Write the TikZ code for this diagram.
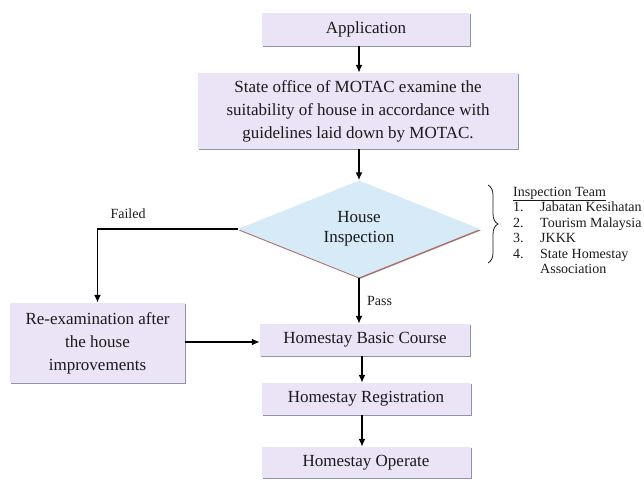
\documentclass[tikz,border=0pt]{standalone}
\usepackage{fontspec}
\setmainfont{Liberation Serif}
\usetikzlibrary{positioning, shapes.geometric, shadows, arrows.meta, decorations.pathreplacing}
\definecolor{boxfill}{HTML}{EBE3F6}
\definecolor{boxedge}{HTML}{8C94A8}
\definecolor{diafill}{HTML}{D6EAF8}
\definecolor{diaedge}{HTML}{A8706A}
\definecolor{xtext}{HTML}{1A1A1A}
\tikzset{
	arrow/.style={line width=1.6pt, -{Latex[length=8pt, width=7pt]}},
	flowbox/.style={fill=boxfill, text=xtext, inner sep=0pt, align=center,
		font=\fontsize{17}{23}\selectfont,
		drop shadow={shadow xshift=1.2pt, shadow yshift=-1.4pt, fill=boxedge, opacity=1}},
	decision/.style={diamond, fill=diafill, text=xtext, inner sep=0pt, align=center,
		shape aspect=2.5, font=\fontsize{17}{20}\selectfont,
		drop shadow={shadow xshift=0.8pt, shadow yshift=-1.4pt, fill=diaedge, opacity=1}},
	label/.style={text=xtext, font=\fontsize{14}{16}\selectfont},
}

\begin{document}
\begin{tikzpicture}[x=1pt, y=-1pt]
	\useasboundingbox (0,0) rectangle (644,479);

	% Main column
	\node[flowbox, minimum width=208pt, minimum height=33pt] (app) at (366,29.5) {Application};
	\node[flowbox, minimum width=320pt, minimum height=76pt] (state) at (358,111)
		{State office of MOTAC examine the\\suitability of house in accordance with\\guidelines laid down by MOTAC.};
	\node[decision, minimum width=242pt, minimum height=97pt] (insp) at (359,229) {House\\Inspection};
	\node[flowbox, minimum width=210pt, minimum height=32pt] (basic) at (365,340) {Homestay Basic Course};
	\node[flowbox, minimum width=209pt, minimum height=32pt] (reg) at (366,399) {Homestay Registration};
	\node[flowbox, minimum width=209pt, minimum height=31pt] (oper) at (366,462.5) {Homestay Operate};

	% Failed branch
	\node[flowbox, minimum width=175pt, minimum height=80pt] (reexam) at (97.5,343)
		{Re-examination after\\the house\\improvements};

	\draw[arrow] (app.south -| insp) -- (state.north -| insp);
	\draw[arrow] (state.south -| insp) -- (insp.north);
	\draw[arrow] (insp.south) -- node[label, right, xshift=4pt] (pass) {Pass} (basic.north -| insp);
	\draw[arrow] ([xshift=3pt]basic.south -| insp) -- ([xshift=3pt]reg.north -| insp);
	\draw[arrow] ([xshift=3pt]reg.south -| insp) -- ([xshift=3pt]oper.north -| insp);
	\draw[arrow] (insp.west) -| (reexam.north);
	\node[label] (failed) at (128,214) {Failed};
	\draw[arrow] ([yshift=1pt]reexam.east) -- ([yshift=1pt]reexam.east -| basic.west);

	% Inspection team
	\coordinate (braceTop) at (488,185);
	\coordinate (braceBot) at (488,263);
	\draw[thick, xtext, decorate, decoration={brace, amplitude=10pt}] (braceTop) -- (braceBot);
	\node[label, anchor=north west, inner sep=0pt, font=\fontsize{14}{15.5}\selectfont] (team) at (513,185)
		{\begin{tabular}{@{}p{27pt}@{}l@{}}
			\multicolumn{2}{@{}l@{}}{\underline{Inspection Team}}\\
			1. & Jabatan Kesihatan\\
			2. & Tourism Malaysia\\
			3. & JKKK\\
			4. & State Homestay\\
			   & Association
		\end{tabular}};
\end{tikzpicture}
\end{document}
